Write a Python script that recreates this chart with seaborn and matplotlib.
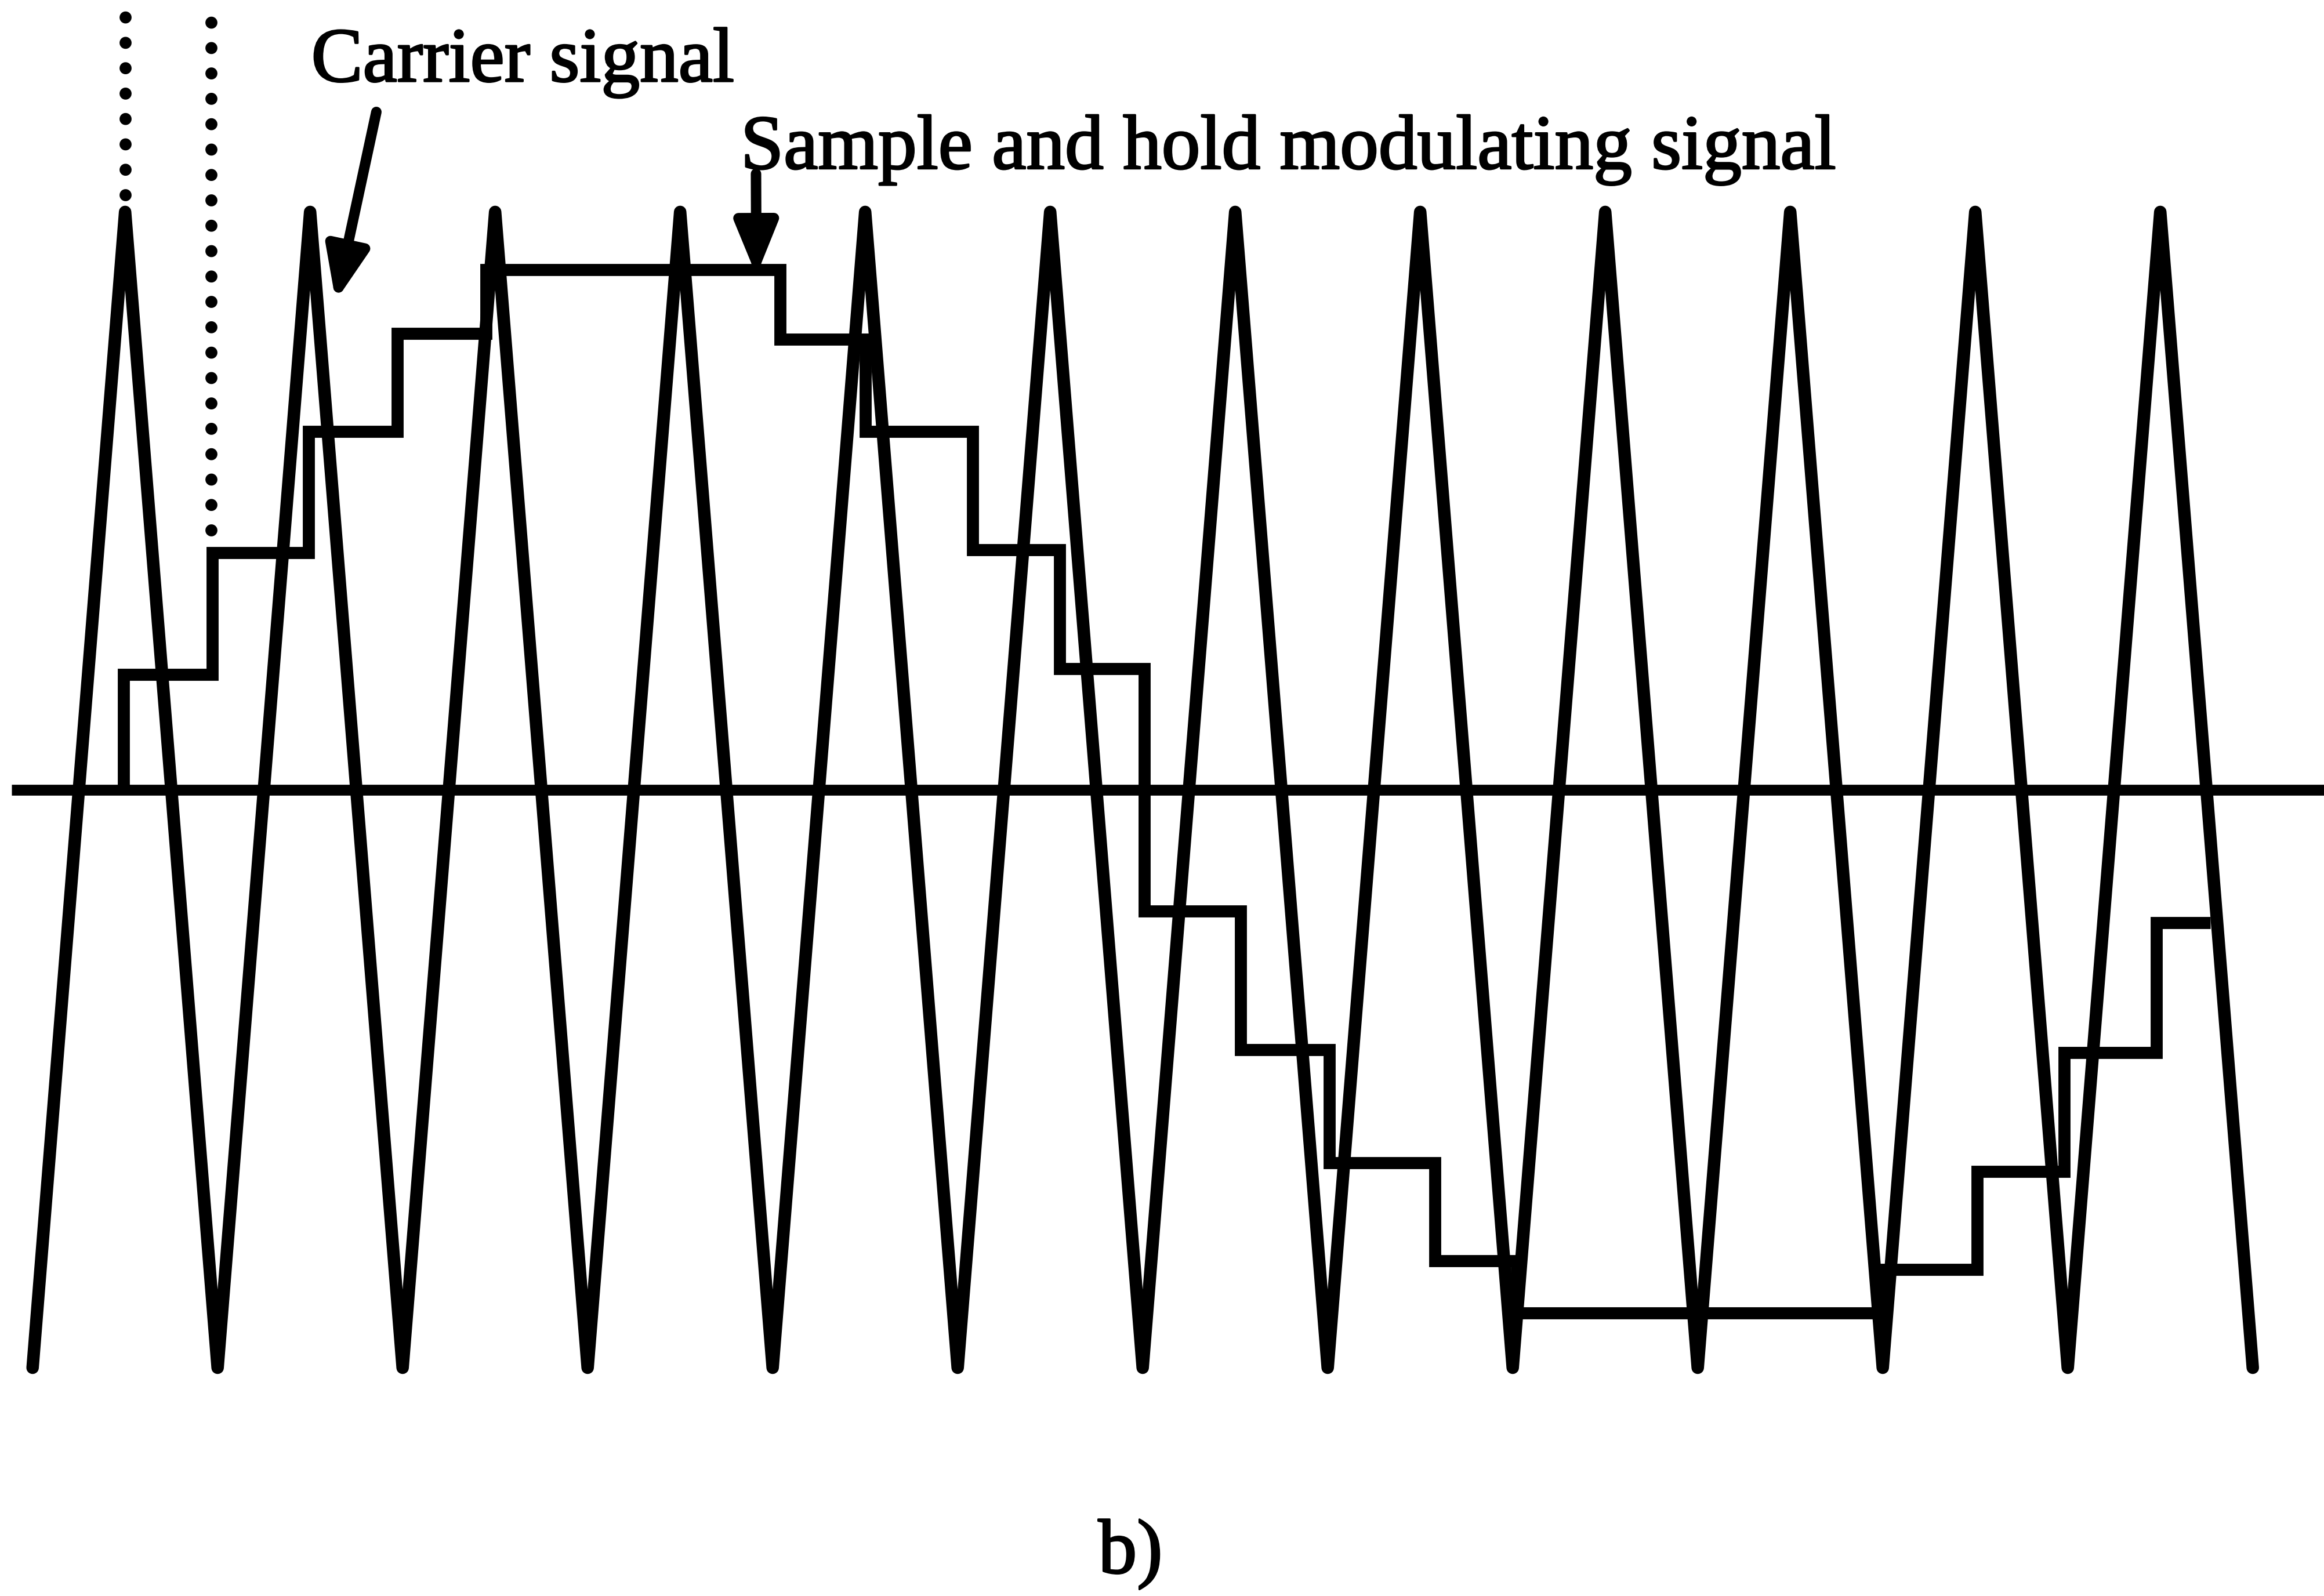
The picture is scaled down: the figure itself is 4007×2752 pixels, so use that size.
import matplotlib
matplotlib.use("Agg")
import matplotlib.pyplot as plt
import matplotlib.patheffects as pe
from matplotlib.patches import ArrowStyle
import pandas as pd
import seaborn as sns

# Carrier: triangle wave, one vertex every half carrier period (time in carrier periods)
carrier_t = [0.0, 0.5, 1.0, 1.5, 2.0, 2.5, 3.0, 3.5, 4.0, 4.5, 5.0, 5.5, 6.0,
             6.5, 7.0, 7.5, 8.0, 8.5, 9.0, 9.5, 10.0, 10.5, 11.0, 11.5, 12.0]
carrier_v = [-1, 1, -1, 1, -1, 1, -1, 1, -1, 1, -1, 1, -1,
             1, -1, 1, -1, 1, -1, 1, -1, 1, -1, 1, -1]

# Sample-and-hold modulating signal: switching instants and held levels
hold_t = [0.49, 0.49, 0.97, 1.49, 1.97, 2.45, 4.04, 4.50, 5.08, 5.55, 6.01,
          6.53, 7.01, 7.58, 8.02, 10.01, 10.51, 10.98, 11.48, 11.77]
hold_v = [0.0, 0.20, 0.41, 0.62, 0.79, 0.90, 0.78, 0.62, 0.415, 0.21, -0.21,
          -0.45, -0.645, -0.815, -0.905, -0.83, -0.66, -0.455, -0.23, -0.23]

# Dotted sampling markers (time, lower end)
marker_t = [0.5, 0.965]
marker_low = [1.03, 0.45]

# Labels and their arrows
label_texts = ["Carrier signal", "Sample and hold modulating signal"]
label_pos = [(1.506, 1.226), (3.827, 1.075)]
arrow_tail = [(1.858, 1.173), (3.910, 1.066)]
arrow_head = [(1.638, 0.846), (3.912, 0.890)]
caption = "b)"
caption_pos = (5.934, -1.355)

sns.set_theme(style="white")
plt.rcParams["font.family"] = ["Liberation Serif", "DejaVu Serif"]

fig = plt.figure(figsize=(40.07, 27.52), dpi=100)
ax = fig.add_axes([0, 0, 1, 1])
ax.set_xlim(-0.1762, 12.385)
ax.set_ylim(-1.3949, 1.3667)
ax.set_axis_off()

carrier = pd.DataFrame({"t": carrier_t, "v": carrier_v})
held = pd.DataFrame({"t": hold_t, "v": hold_v})

# zero reference line
ax.axhline(0, xmin=0.0049, xmax=1.0, color="black", lw=13.5, solid_capstyle="butt")

sns.lineplot(data=carrier, x="t", y="v", ax=ax, estimator=None, sort=False,
             color="black", lw=15.5, solid_joinstyle="round")
sns.lineplot(data=held, x="t", y="v", ax=ax, estimator=None, sort=False,
             color="black", lw=15, drawstyle="steps-post",
             solid_joinstyle="miter", solid_capstyle="butt")

dots = ax.vlines(marker_t, marker_low, 1.3667, colors="black", lw=15,
                 linestyles=[(0, (0.001, 2.1))])
dots.set_capstyle("round")

ink = [pe.withStroke(linewidth=2.2, foreground="black")]
for txt, (x, y) in zip(label_texts, label_pos):
    ax.text(x, y, txt, fontsize=96, ha="left", va="baseline", color="black",
            path_effects=ink)

for tail, head in zip(arrow_tail, arrow_head):
    ax.annotate("", xy=head, xytext=tail,
                arrowprops=dict(arrowstyle=ArrowStyle("-|>", head_length=54, head_width=22),
                                mutation_scale=1, lw=13, color="black",
                                shrinkA=0, shrinkB=0, joinstyle="round"))

ax.text(caption_pos[0], caption_pos[1], caption, fontsize=96, ha="center",
        va="baseline", color="black", path_effects=ink)

fig.savefig("out.png", dpi=100, facecolor="white")
